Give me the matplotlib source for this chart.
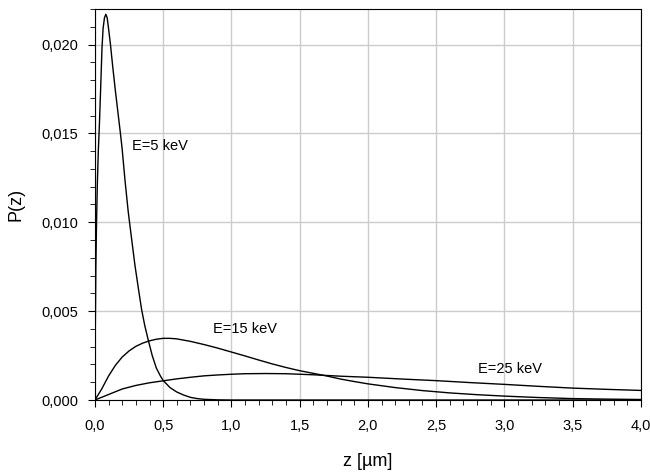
import matplotlib
matplotlib.use('Agg')
import matplotlib.pyplot as plt
from matplotlib.ticker import MultipleLocator, FuncFormatter

# values
z5 = [0.0, 0.003, 0.007, 0.012, 0.018, 0.025, 0.033, 0.042, 0.052, 0.06, 0.07, 0.08,
      0.09, 0.1, 0.114, 0.13, 0.15, 0.17, 0.187, 0.2, 0.22, 0.244, 0.27, 0.293, 0.32,
      0.342, 0.365, 0.39, 0.42, 0.45, 0.48, 0.5, 0.55, 0.6, 0.65, 0.7, 0.75, 0.8,
      0.9, 1.0, 1.2, 4.0]
p5 = [0.0, 0.0040, 0.0075, 0.0100, 0.0122, 0.0140, 0.0155, 0.0175, 0.0198, 0.0209,
      0.0215, 0.0217, 0.0215, 0.0209, 0.0200, 0.0188, 0.0174, 0.0161, 0.0150, 0.0141,
      0.0124, 0.0106, 0.0090, 0.0076, 0.0062, 0.0051, 0.0042, 0.0034, 0.0025, 0.0018,
      0.00135, 0.0011, 0.0007, 0.00045, 0.00028, 0.00015, 0.00008, 0.00004,
      0.00001, 0.0, 0.0, 0.0]

z15 = [0.0, 0.05, 0.1, 0.15, 0.2, 0.25, 0.3, 0.35, 0.4, 0.45, 0.5, 0.55, 0.6, 0.7,
       0.8, 0.9, 1.0, 1.1, 1.2, 1.3, 1.4, 1.5, 1.6, 1.7, 1.8, 1.9, 2.0, 2.2, 2.4,
       2.6, 2.8, 3.0, 3.25, 3.5, 3.75, 4.0]
p15 = [0.0, 0.00062, 0.00135, 0.00195, 0.00242, 0.00276, 0.00302, 0.00320, 0.00333,
       0.00342, 0.00347, 0.00347, 0.00344, 0.00330, 0.00312, 0.00292, 0.00270,
       0.00248, 0.00225, 0.00203, 0.00183, 0.00165, 0.00150, 0.00135, 0.00118,
       0.00104, 0.00091, 0.00070, 0.00053, 0.00040, 0.00030, 0.00022, 0.00014,
       0.00008, 0.00005, 0.00003]

z25 = [0.0, 0.1, 0.2, 0.3, 0.4, 0.5, 0.6, 0.7, 0.8, 0.9, 1.0, 1.1, 1.25, 1.4, 1.6,
       1.7, 1.8, 2.0, 2.25, 2.5, 2.75, 3.0, 3.25, 3.5, 3.75, 4.0]
p25 = [0.0, 0.00031, 0.00062, 0.00082, 0.00097, 0.00108, 0.00119, 0.00128, 0.00136,
       0.00141, 0.00145, 0.00148, 0.00149, 0.00148, 0.00142, 0.00138, 0.00134,
       0.00128, 0.00118, 0.00109, 0.00098, 0.00088, 0.00077, 0.00067, 0.00060, 0.00054]

labels = ['E=5 keV', 'E=15 keV', 'E=25 keV']
label_pos = [(0.27, 0.0143), (0.865, 0.0040), (2.81, 0.00174)]

plt.rcParams['font.family'] = ['Liberation Sans', 'DejaVu Sans']

fig = plt.figure(figsize=(6.5, 4.72), dpi=100)
ax = fig.add_axes([0.146, 0.1525, 0.84, 0.8285])

for z, p in [(z5, p5), (z15, p15), (z25, p25)]:
    ax.plot(z, p, color='black', lw=1.0)

for txt, (x, y) in zip(labels, label_pos):
    ax.text(x, y, txt, fontsize=10.5, ha='left', va='center')

ax.set_xlim(0, 4.0)
ax.set_ylim(0, 0.022)
ax.xaxis.set_major_locator(MultipleLocator(0.5))
ax.xaxis.set_minor_locator(MultipleLocator(0.1))
ax.yaxis.set_major_locator(MultipleLocator(0.005))
ax.yaxis.set_minor_locator(MultipleLocator(0.001))
ax.xaxis.set_major_formatter(FuncFormatter(lambda v, _: f'{v:.1f}'.replace('.', ',')))
ax.yaxis.set_major_formatter(FuncFormatter(lambda v, _: f'{v:.3f}'.replace('.', ',')))

ax.grid(True, which='major', color='#cccccc', lw=1.0)
ax.set_axisbelow(True)
ax.tick_params(which='major', direction='out', length=5, labelsize=10.5, pad=9)
ax.tick_params(which='minor', direction='out', length=3.5)
ax.tick_params(axis='y', pad=7)

ax.set_xlabel('z [\u00b5m]', fontsize=13, labelpad=14)
ax.set_ylabel('P(z)', fontsize=13, labelpad=12)

fig.savefig('out.png', dpi=100)
